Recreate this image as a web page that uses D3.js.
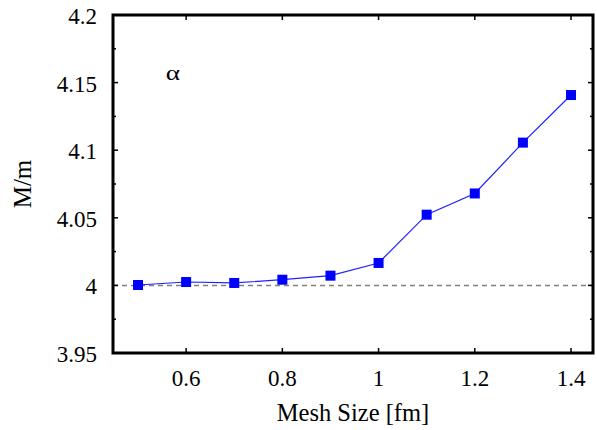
<!DOCTYPE html>
<html><head><meta charset="utf-8">
<script src="https://cdn.jsdelivr.net/npm/d3@7"></script>
<style>body{margin:0;background:#fff}svg{display:block}text{font-family:"Liberation Serif","Times New Roman",serif;fill:#000}</style>
</head><body>
<script>
const meshSize = [0.5, 0.6, 0.7, 0.8, 0.9, 1.0, 1.1, 1.2, 1.3, 1.4];
const massRatio = [4.0003, 4.0025, 4.0018, 4.0042, 4.0072, 4.0166, 4.0523, 4.0680, 4.1056, 4.1408];
const xTicks = [0.6, 0.8, 1.0, 1.2, 1.4];
const yTicks = [3.95, 4.0, 4.05, 4.1, 4.15, 4.2];
const yMinorTicks = [3.975, 4.025, 4.075, 4.125, 4.175];
const refValue = 4.0;
const xLabel = "Mesh Size [fm]";
const yLabel = "M/m";
const panelLabel = "α";

const W = 597, H = 430;
const m = {left: 113, right: W - 593, top: 15, bottom: H - 353};
const svg = d3.select("body").append("svg").attr("width", W).attr("height", H);
const x = d3.scaleLinear().domain([0.448, 1.4457]).range([m.left, W - m.right]);
const y = d3.scaleLinear().domain([3.95, 4.2]).range([H - m.bottom, m.top]);
const fmt = d => d === 1 ? "1" : d === 4 ? "4" : String(+d.toFixed(2));
const serif = "Liberation Serif";

// reference dashed line
svg.append("line").attr("x1", x.range()[0]).attr("x2", x.range()[1])
  .attr("y1", y(refValue)).attr("y2", y(refValue))
  .attr("stroke", "#808080").attr("stroke-width", 1.5).attr("stroke-dasharray", "5,4");

// ticks (inward on all four sides)
const g = svg.append("g");
const tl = 5;
xTicks.forEach(t => {
  g.append("line").attr("x1", x(t)).attr("x2", x(t)).attr("y1", y.range()[0]).attr("y2", y.range()[0] - tl).attr("stroke", "#000").attr("stroke-width", 1.5);
  g.append("line").attr("x1", x(t)).attr("x2", x(t)).attr("y1", y.range()[1]).attr("y2", y.range()[1] + tl).attr("stroke", "#000").attr("stroke-width", 1.5);
  svg.append("text").attr("x", x(t)).attr("y", 386).attr("text-anchor", "middle").attr("font-family", serif).attr("font-size", 23).text(fmt(t));
});
yTicks.concat(yMinorTicks).forEach(t => {
  const len = yMinorTicks.includes(t) ? 3 : tl;
  g.append("line").attr("x1", x.range()[0]).attr("x2", x.range()[0] + len).attr("y1", y(t)).attr("y2", y(t)).attr("stroke", "#000").attr("stroke-width", 1.5);
  g.append("line").attr("x1", x.range()[1]).attr("x2", x.range()[1] - len).attr("y1", y(t)).attr("y2", y(t)).attr("stroke", "#000").attr("stroke-width", 1.5);
});
yTicks.forEach(t => {
  svg.append("text").attr("x", 97).attr("y", y(t) + 9).attr("text-anchor", "end").attr("font-family", serif).attr("font-size", 23).text(fmt(t));
});

// frame
svg.append("rect").attr("x", x.range()[0]).attr("y", y.range()[1])
  .attr("width", x.range()[1] - x.range()[0]).attr("height", y.range()[0] - y.range()[1])
  .attr("fill", "none").attr("stroke", "#000").attr("stroke-width", 3);

// series
const pts = meshSize.map((d, i) => [d, massRatio[i]]);
svg.append("path").datum(pts)
  .attr("d", d3.line().x(d => x(d[0])).y(d => y(d[1])))
  .attr("fill", "none").attr("stroke", "#2020ff").attr("stroke-width", 1.2);
const ms = 10;
svg.selectAll("rect.pt").data(pts).enter().append("rect").attr("class", "pt")
  .attr("x", d => x(d[0]) - ms / 2).attr("y", d => y(d[1]) - ms / 2)
  .attr("width", ms).attr("height", ms).attr("fill", "#0000ff");

// labels
svg.append("text").attr("x", (x.range()[0] + x.range()[1]) / 2).attr("y", 421).attr("text-anchor", "middle").attr("font-family", serif).attr("font-size", 24.5).text(xLabel);
svg.append("text").attr("transform", `translate(31,${(y.range()[0] + y.range()[1]) / 2}) rotate(-90)`).attr("text-anchor", "middle").attr("font-family", serif).attr("font-size", 25).text(yLabel);
svg.append("text").attr("transform", "translate(173,80) scale(1.3,1)").attr("text-anchor", "middle").attr("font-family", "DejaVu Sans").attr("font-size", 21).text(panelLabel);
</script>
</body></html>
